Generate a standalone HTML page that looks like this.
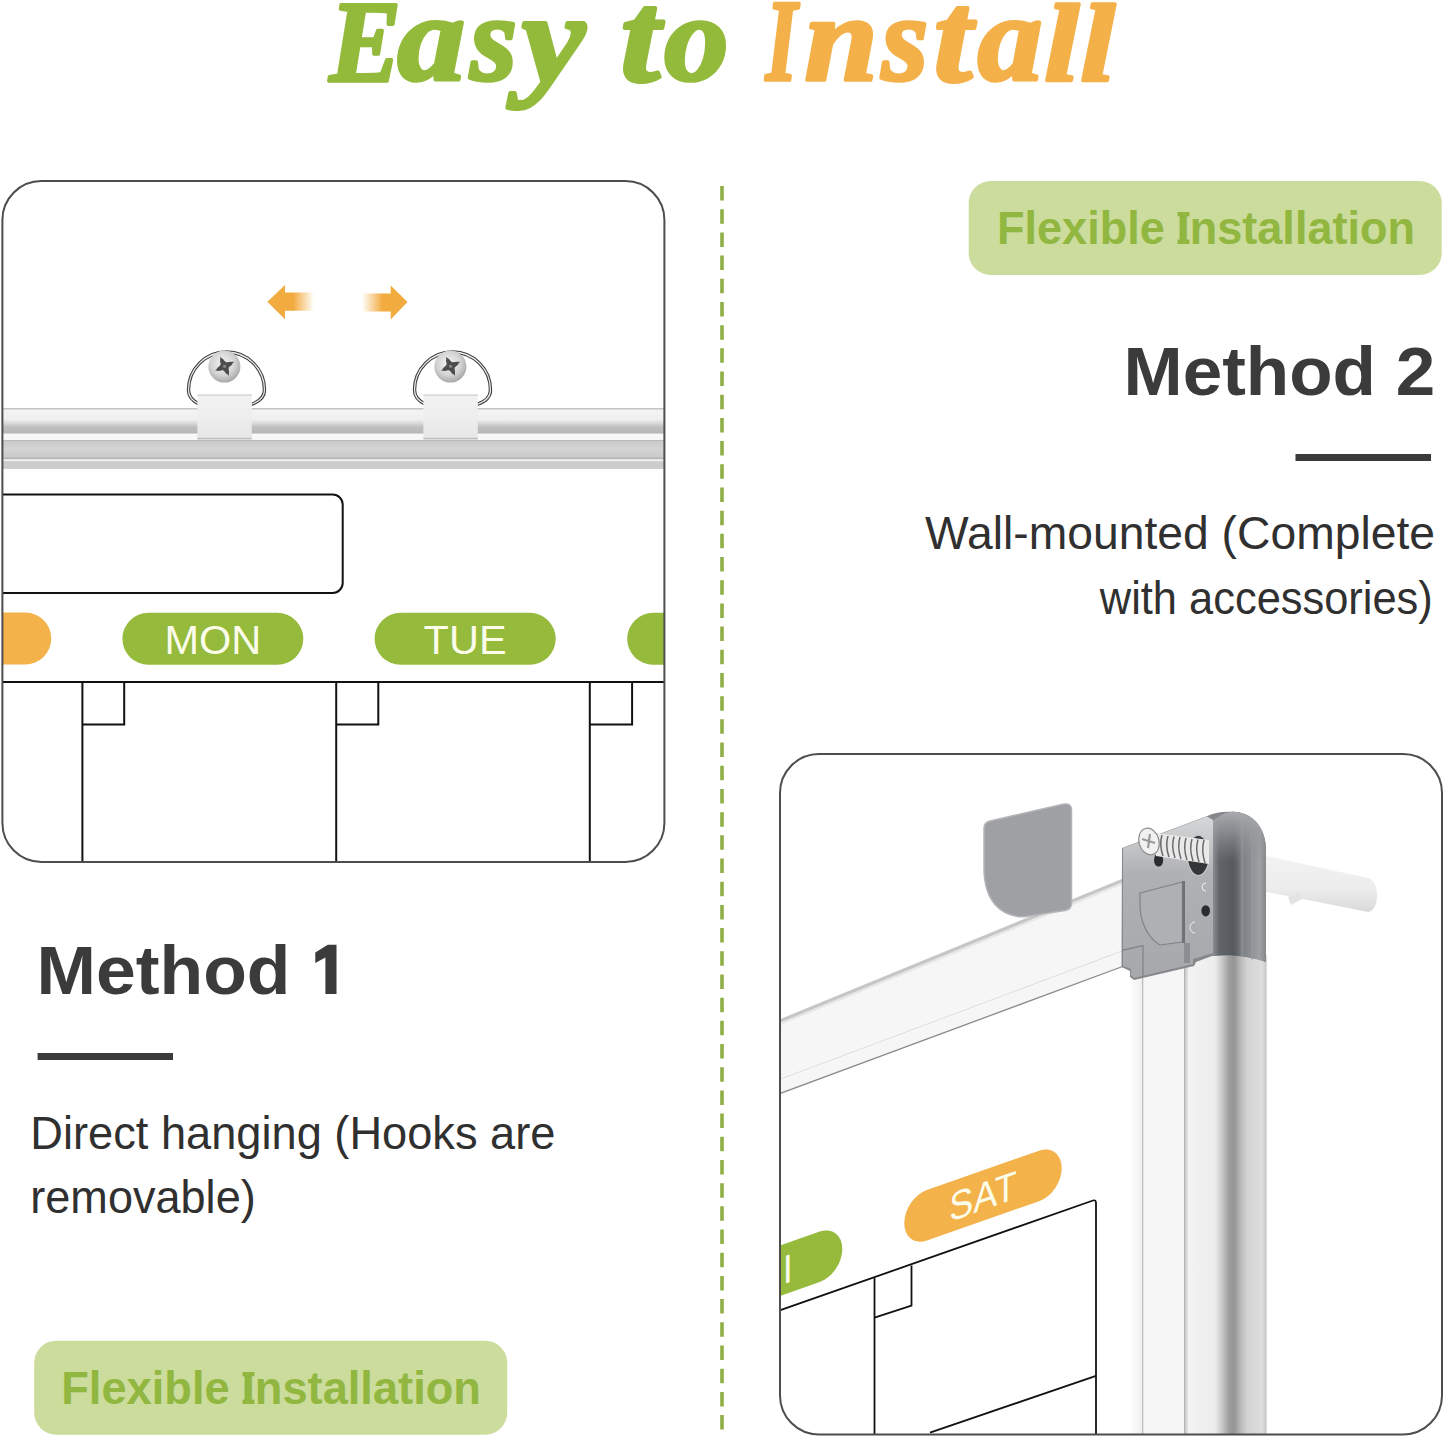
<!DOCTYPE html>
<html><head><meta charset="utf-8">
<style>
html,body{margin:0;padding:0;background:#fff;}
body{width:1445px;height:1438px;overflow:hidden;position:relative;font-family:"Liberation Sans",sans-serif;}
svg{position:absolute;left:0;top:0;}
</style></head>
<body>
<svg width="1445" height="1438" viewBox="0 0 1445 1438">
<defs>
  <clipPath id="cpL"><rect x="2.4" y="181" width="662" height="681" rx="39"/></clipPath>
  <clipPath id="cpR"><rect x="780" y="754" width="662" height="680.5" rx="39"/></clipPath>
  <linearGradient id="arL" x1="0" x2="1" y1="0" y2="0">
    <stop offset="0.55" stop-color="#f2ab3f" stop-opacity="1"/>
    <stop offset="1" stop-color="#f2ab3f" stop-opacity="0"/>
  </linearGradient>
  <linearGradient id="arR" x1="1" x2="0" y1="0" y2="0">
    <stop offset="0.55" stop-color="#f2ab3f" stop-opacity="1"/>
    <stop offset="1" stop-color="#f2ab3f" stop-opacity="0"/>
  </linearGradient>
  <linearGradient id="pipe" x1="0" x2="1" y1="0" y2="0">
    <stop offset="0" stop-color="#c9c9c9"/>
    <stop offset="0.04" stop-color="#f3f3f3"/>
    <stop offset="0.36" stop-color="#ededed"/>
    <stop offset="0.45" stop-color="#c9c9c9"/>
    <stop offset="0.54" stop-color="#9c9c9c"/>
    <stop offset="0.6" stop-color="#959595"/>
    <stop offset="0.67" stop-color="#b5b5b5"/>
    <stop offset="0.76" stop-color="#d3d3d3"/>
    <stop offset="0.94" stop-color="#dddddd"/>
    <stop offset="0.98" stop-color="#d0d0d0"/>
    <stop offset="1" stop-color="#c4c4c4"/>
  </linearGradient>
  <linearGradient id="capR" x1="0" x2="1" y1="0" y2="0">
    <stop offset="0" stop-color="#8f9296"/>
    <stop offset="0.14" stop-color="#606468"/>
    <stop offset="0.4" stop-color="#565a5e"/>
    <stop offset="0.5" stop-color="#6a6e72"/>
    <stop offset="0.56" stop-color="#8c8f92"/>
    <stop offset="0.6" stop-color="#7e8185"/>
    <stop offset="0.88" stop-color="#9fa2a5"/>
    <stop offset="1" stop-color="#86898c"/>
  </linearGradient>
  <linearGradient id="faceG" x1="0" x2="0" y1="0" y2="1">
    <stop offset="0" stop-color="#d6d7d9"/>
    <stop offset="0.15" stop-color="#c6c8ca"/>
    <stop offset="0.35" stop-color="#afb1b4"/>
    <stop offset="1" stop-color="#a6a8ac"/>
  </linearGradient>
  <radialGradient id="screwG" cx="0.45" cy="0.4" r="0.6">
    <stop offset="0" stop-color="#f2f2f2"/>
    <stop offset="0.6" stop-color="#d5d5d5"/>
    <stop offset="1" stop-color="#a9a9a9"/>
  </radialGradient>
  <linearGradient id="clipG" x1="0" x2="0" y1="0" y2="1">
    <stop offset="0" stop-color="#f2f2f2"/>
    <stop offset="0.5" stop-color="#eeeeee"/>
    <stop offset="1" stop-color="#e6e6e6"/>
  </linearGradient>
  <linearGradient id="railTop" x1="0" x2="0" y1="0" y2="1">
    <stop offset="0" stop-color="#f4f4f4"/>
    <stop offset="0.45" stop-color="#efefef"/>
    <stop offset="0.62" stop-color="#d4d4d4"/>
    <stop offset="0.72" stop-color="#c0c0c0"/>
    <stop offset="0.92" stop-color="#b9b9b9"/>
    <stop offset="1" stop-color="#b2b2b2"/>
  </linearGradient>
  <linearGradient id="railMid" x1="0" x2="0" y1="0" y2="1">
    <stop offset="0" stop-color="#cbcbcb"/>
    <stop offset="0.5" stop-color="#d4d4d4"/>
    <stop offset="1" stop-color="#c9c9c9"/>
  </linearGradient>
  <linearGradient id="anchorG" x1="0" x2="0" y1="0" y2="1">
    <stop offset="0" stop-color="#f3f3f3"/>
    <stop offset="0.6" stop-color="#ececec"/>
    <stop offset="1" stop-color="#dadada"/>
  </linearGradient>
  <linearGradient id="domeG" x1="0" x2="0" y1="0" y2="1">
    <stop offset="0" stop-color="#a9abae" stop-opacity="1"/>
    <stop offset="0.4" stop-color="#9a9ca0" stop-opacity="0.7"/>
    <stop offset="1" stop-color="#8a8c90" stop-opacity="0"/>
  </linearGradient>
  <linearGradient id="stripL" x1="0" x2="1" y1="0" y2="0">
    <stop offset="0" stop-color="#ffffff"/>
    <stop offset="1" stop-color="#efefef"/>
  </linearGradient>
</defs>

<!-- TITLE -->
<g font-family="Liberation Serif" font-style="italic" font-weight="bold" font-size="119" stroke-width="3.6" stroke-linejoin="round">
  <text transform="matrix(0.9000,0,0,0.9837,329.60,80.62)" fill="#93ba3b" stroke="#93ba3b">E</text>
  <text transform="matrix(1.1362,0,0,1.0322,397.50,80.14)" fill="#93ba3b" stroke="#93ba3b">a</text>
  <text transform="matrix(1.0109,0,0,1.0322,470.32,80.14)" fill="#93ba3b" stroke="#93ba3b">s</text>
  <text transform="matrix(1.1970,0,0,1.0756,521.84,81.53)" fill="#93ba3b" stroke="#93ba3b">y</text>
  <text transform="matrix(1.1912,0,0,1.0783,620.43,80.52)" fill="#93ba3b" stroke="#93ba3b">t</text>
  <text transform="matrix(1.0800,0,0,1.0339,664.32,80.13)" fill="#93ba3b" stroke="#93ba3b">o</text>
  <text transform="matrix(0.6792,0,0,0.9812,765.66,80.22)" fill="#f4b049" stroke="#f4b049">I</text>
  <text transform="matrix(1.1067,0,0,1.0310,804.49,80.17)" fill="#f4b049" stroke="#f4b049">n</text>
  <text transform="matrix(1.0043,0,0,1.0271,881.81,79.95)" fill="#f4b049" stroke="#f4b049">s</text>
  <text transform="matrix(1.1588,0,0,1.0855,933.72,80.51)" fill="#f4b049" stroke="#f4b049">t</text>
  <text transform="matrix(1.0862,0,0,1.0271,977.70,79.95)" fill="#f4b049" stroke="#f4b049">a</text>
  <text transform="matrix(1.0531,0,0,0.9310,1044.19,80.67)" fill="#f4b049" stroke="#f4b049">l</text>
  <text transform="matrix(1.0531,0,0,0.9310,1080.19,80.67)" fill="#f4b049" stroke="#f4b049">l</text>
</g>

<!-- DASHED DIVIDER -->
<line x1="722" y1="186" x2="722" y2="1430" stroke="#8fae45" stroke-width="3.6" stroke-dasharray="14.5 8.69"/>

<!-- LEFT PANEL -->
<g clip-path="url(#cpL)">
  <!-- arrows -->
  <path d="M267.4 301.8 L285 285 L285 292.4 L314 292.4 L314 310.8 L285 310.8 L285 319.2 Z" fill="url(#arL)"/>
  <path d="M407.5 302 L390.7 285.5 L390.7 293.6 L362 293.6 L362 311.5 L390.7 311.5 L390.7 319.5 Z" fill="url(#arR)"/>
  <!-- rail -->
  <rect x="0" y="408" width="670" height="61" fill="#d6d6d6"/>
  <rect x="0" y="408" width="670" height="26" fill="url(#railTop)"/>
  <rect x="0" y="408" width="670" height="1.5" fill="#c4c4c4"/>
  <rect x="0" y="433.5" width="670" height="6.5" fill="#f8f8f8"/>
  <rect x="0" y="440" width="670" height="1.5" fill="#b9b9b9"/>
  <rect x="0" y="441.5" width="670" height="16" fill="url(#railMid)"/>
  <rect x="0" y="457.5" width="670" height="1.8" fill="#b3b3b3"/>
  <rect x="0" y="459.3" width="670" height="2" fill="#f0f0f0"/>
  <rect x="0" y="461.3" width="670" height="7.5" fill="#cccccc"/>
  <!-- hooks -->
  <g id="hook1">
    <path d="M200 404.5 C192 401 188.5 396 188.5 390 A38 38 0 0 1 264.5 390 C264.5 396 261 401 251 404.5" fill="none" stroke="#3a3a3a" stroke-width="3.4"/>
    <path d="M200 404.5 C192 401 188.5 396 188.5 390 A38 38 0 0 1 264.5 390 C264.5 396 261 401 251 404.5" fill="none" stroke="#e9e9e9" stroke-width="1.3"/>
    <circle cx="224.4" cy="366.6" r="16" fill="url(#screwG)"/>
    <g transform="translate(224.6,366.3) rotate(-25)" fill="#4d4d4d">
      <path d="M0 -10.5 L3 -3 L10.5 0 L3 3 L0 10.5 L-3 3 L-10.5 0 L-3 -3 Z"/>
      <rect x="-1.8" y="-8" width="3.6" height="16" rx="1.5"/>
      <rect x="-8" y="-1.8" width="16" height="3.6" rx="1.5"/>
    </g>
    <circle cx="224.6" cy="366.3" r="1.6" fill="#8a8a8a"/>
    <rect x="197.4" y="394.4" width="54.4" height="45" fill="url(#clipG)"/>
    <rect x="197.4" y="394.4" width="54.4" height="1.5" fill="#d6d6d6"/>
    <rect x="197.4" y="437.8" width="54.4" height="1.6" fill="#bdbdbd"/>
  </g>
  <use href="#hook1" transform="translate(226,0)"/>
  <!-- notebox -->
  <rect x="-20" y="494.5" width="362.7" height="98.5" rx="10" fill="none" stroke="#111" stroke-width="2"/>
  <!-- pills -->
  <rect x="-60" y="612.5" width="111.2" height="52" rx="26" fill="#f3b24a"/>
  <rect x="122.4" y="612.8" width="180.9" height="52" rx="26" fill="#95ba3c"/>
  <rect x="374.6" y="612.8" width="181.1" height="52" rx="26" fill="#95ba3c"/>
  <rect x="627.2" y="612.8" width="181" height="52" rx="26" fill="#95ba3c"/>
  <g font-family="Liberation Sans" font-size="41.5" fill="#fbfce9" text-anchor="middle">
    <text x="212.8" y="654">MON</text>
    <text x="465.1" y="654">TUE</text>
  </g>
  <!-- grid -->
  <g stroke="#111" stroke-width="2" fill="none">
    <line x1="0" y1="682" x2="670" y2="682"/>
    <line x1="82.4" y1="682" x2="82.4" y2="870"/>
    <polyline points="82.4,724.6 124.2,724.6 124.2,682"/>
    <line x1="336.2" y1="682" x2="336.2" y2="870"/>
    <polyline points="336.2,724.6 378.3,724.6 378.3,682"/>
    <line x1="589.8" y1="682" x2="589.8" y2="870"/>
    <polyline points="589.8,724.6 632.1,724.6 632.1,682"/>
  </g>
</g>
<rect x="2.4" y="181" width="662" height="681" rx="39" fill="none" stroke="#4d4d4d" stroke-width="2"/>

<!-- RIGHT PANEL -->
<g clip-path="url(#cpR)">
  <!-- top frame bar -->
  <path d="M778 1021.8 L1128 878.2 L1128 964.5 L778 1094.2 Z" fill="#f6f6f6"/>
  <path d="M778 1021.8 L1128 878.2" stroke="#c6c6c6" stroke-width="3.4"/>
  <path d="M778 1024.8 L1128 881.2" stroke="#e6e6e6" stroke-width="2"/>
  <path d="M778 1080 L1128 948.8" stroke="#dedede" stroke-width="1"/>
  <path d="M778 1094.2 L1128 964.5" stroke="#8a8a8a" stroke-width="1.3"/>
  <!-- wall plate -->
  <path d="M984 828 Q984 822.5 990 821 L1064 804 Q1071.5 803 1071.5 810 L1071.5 903 Q1071.5 909.5 1065 910.5 L1026 916.6 C1000 918 984 900 984 868 Z" fill="#9ea0a4"/>
  <path d="M984 828 Q984 822.5 990 821 L1064 804 Q1071.5 803 1071.5 810 L1071.5 903 Q1071.5 909.5 1065 910.5 L1026 916.6 C1000 918 984 900 984 868 Z" fill="none" stroke="#b3b5b8" stroke-width="1.5"/>
  <!-- vertical frame -->
  <rect x="1130" y="955" width="12.5" height="490" fill="url(#stripL)"/>
  <rect x="1142" y="955" width="1.6" height="490" fill="#bdbdbd"/>
  <rect x="1143.5" y="955" width="41" height="490" fill="#f6f6f7"/>
  <rect x="1184" y="955" width="1.6" height="490" fill="#b3b3b3"/>
  <rect x="1185.6" y="955" width="81" height="490" fill="url(#pipe)"/>
  <!-- anchor -->
  <path d="M1262 855 L1368 878 C1380 881 1380 910 1368 912 L1262 891 Z" fill="url(#anchorG)"/>
  <path d="M1288 897 L1300 893 L1302 899 L1291 905 Z" fill="#e3e3e3"/>
  <!-- cap base -->
  <path d="M1122 848 L1206 816.5 C1214 812 1224 811 1236 812 C1255 814 1266 830 1266 850 L1266 962 C1250 956 1228 954 1212 956 L1196 962 L1194 966 L1134 980 L1130 977 L1130 971 L1121.5 967 Z" fill="#86888b"/>
  <!-- rounded part gradient -->
  <path d="M1212 822 C1220 814 1228 811 1236 812 C1255 814 1266 830 1266 850 L1266 962 C1250 956 1228 954 1212 956 Z" fill="url(#capR)"/>
  <path d="M1212 822 C1220 814 1228 811 1236 812 C1255 814 1266 830 1266 850 L1266 862 L1212 862 Z" fill="url(#domeG)"/>
  <path d="M1242 818 C1250 824 1252 835 1252 850 L1252 960" fill="none" stroke="#9a9da0" stroke-width="1"/>
  <!-- flat face -->
  <path d="M1123 848 L1207 816.5 L1213 820 L1213 953 L1193 959 L1193 964 L1134 978 L1131 975 L1131 969 L1123 966 Z" fill="url(#faceG)"/>
  <!-- recessed door -->
  <path d="M1140 893 L1182.4 882 L1182.4 942 L1160 945 C1148 938 1140 922 1140 905 Z" fill="#aeb0b4" stroke="#7f8286" stroke-width="1.2"/>
  <rect x="1182.4" y="881" width="2.6" height="62" fill="#6e7174"/>
  <rect x="1184" y="943" width="6" height="20" fill="#8a8d91"/>
  <path d="M1122 950.4 L1143 945.6 L1143 977" fill="none" stroke="#7f8286" stroke-width="1.2"/>
  <!-- holes -->
  <ellipse cx="1158.6" cy="860" rx="4.6" ry="6.6" fill="#2b2c2e"/>
  <ellipse cx="1198.3" cy="855.5" rx="11" ry="20" fill="#353638" stroke="#c4c6c9" stroke-width="1.2"/>
  <ellipse cx="1205.7" cy="910.8" rx="4.3" ry="5.6" fill="#2b2c2e"/>
  <path d="M1206 883 a4 4 0 0 0 0 8" fill="none" stroke="#f0f0f0" stroke-width="1"/>
  <path d="M1195 922 a5 5.5 0 0 0 0 11" fill="none" stroke="#f0f0f0" stroke-width="1"/>
  <!-- screw thread -->
  <path d="M1156 833 L1209 840 L1209 864 L1156 856 Z" fill="#e9e9e9"/>
  <g stroke="#6a6a6a" stroke-width="1.5" fill="none">
    <path d="M1162 835 q-3 10 1 21"/><path d="M1168 836 q-3 10 1 21"/><path d="M1174 836.5 q-3 10 1 21.5"/>
    <path d="M1180 837 q-3 10 1 22"/><path d="M1186 838 q-3 10 1 22"/><path d="M1192 839 q-3 10 1 22"/>
    <path d="M1198 839.5 q-3 10 1 22.5"/><path d="M1204 840 q-3 10 1 23"/>
  </g>
  <!-- screw head -->
  <ellipse cx="1149" cy="841.5" rx="10" ry="13.5" transform="rotate(-15 1149 841.5)" fill="#f1f1f1" stroke="#8c8c8c" stroke-width="1.2"/>
  <path d="M1142 839 L1155 843 M1150 834 L1148 848" stroke="#9a9a9a" stroke-width="2.2"/>
  <!-- whiteboard drawing -->
  <g stroke="#111" stroke-width="1.8" fill="none">
    <path d="M778 1311 L1093 1200.5 Q1096 1199.5 1096 1203 L1096 1440"/>
    <path d="M874.5 1278 L874.5 1440"/>
    <path d="M911.5 1265.6 L911.5 1305.6 L874.5 1317.7"/>
    <path d="M930 1432.7 L1096 1375.8"/>
  </g>
  <!-- SAT pill -->
  <g transform="matrix(0.87,-0.305,0,0.97,983,1195.6)">
    <rect x="-90.5" y="-26" width="181" height="52" rx="26" fill="#f3b24a"/>
    <text x="0" y="15" font-family="Liberation Sans" font-size="41.5" fill="#fbfce9" text-anchor="middle">SAT</text>
  </g>
  <!-- FRI pill (partial) -->
  <g transform="matrix(0.87,-0.305,0,0.97,763.6,1276.5)">
    <rect x="-90.5" y="-26" width="181" height="52" rx="26" fill="#95ba3c"/>
    <text x="0" y="15" font-family="Liberation Sans" font-size="41.5" fill="#fbfce9" text-anchor="middle">FRI</text>
  </g>
</g>
<rect x="780" y="754" width="662" height="680.5" rx="39" fill="none" stroke="#4d4d4d" stroke-width="2"/>

<!-- BADGES -->
<rect x="968.7" y="181" width="473" height="94" rx="22" fill="#cbdc9c"/>
<rect x="34.2" y="1340.7" width="473" height="94" rx="22" fill="#cbdc9c"/>
<g font-family="Liberation Sans" font-weight="bold" font-size="47" fill="#91b740">
  <text x="997" y="244" textLength="418" lengthAdjust="spacingAndGlyphs">Flexible Installation</text>
  <text x="61.2" y="1404" textLength="419.8" lengthAdjust="spacingAndGlyphs">Flexible Installation</text>
  <rect x="1177.5" y="212" width="12" height="4.3"/><rect x="1177.5" y="239.6" width="12" height="4.4"/><rect x="1179.6" y="212" width="2" height="32"/>
  <rect x="242.5" y="1372" width="12" height="4.3"/><rect x="242.5" y="1399.6" width="12" height="4.4"/><rect x="244.6" y="1372" width="2" height="32"/>
</g>

<!-- HEADINGS -->
<g font-family="Liberation Sans" font-weight="bold" font-size="69" fill="#3b3b3b">
  <text x="36.6" y="994" textLength="253.8" lengthAdjust="spacingAndGlyphs">Method</text>
  <text x="1123.5" y="394.5" textLength="311.7" lengthAdjust="spacingAndGlyphs">Method 2</text>
</g>
<path d="M325.4 994 L325.4 957.5 L315.3 963 L315.3 952.5 L327.8 944.7 L336.5 944.7 L336.5 994 Z" fill="#3b3b3b"/>
<rect x="37.6" y="1053" width="135.4" height="7" fill="#3b3b3b"/>
<rect x="1295.5" y="454" width="135.5" height="7" fill="#3b3b3b"/>

<!-- BODY TEXT -->
<g font-family="Liberation Sans" font-size="46" fill="#303030">
  <text x="30.3" y="1148.5" textLength="525.1" lengthAdjust="spacingAndGlyphs">Direct hanging (Hooks are</text>
  <text x="30.3" y="1213" textLength="225.4" lengthAdjust="spacingAndGlyphs">removable)</text>
  <text x="925" y="549" textLength="510.1" lengthAdjust="spacingAndGlyphs">Wall-mounted (Complete</text>
  <text x="1099.8" y="613.5" textLength="333" lengthAdjust="spacingAndGlyphs">with accessories)</text>
</g>
</svg>
</body></html>
